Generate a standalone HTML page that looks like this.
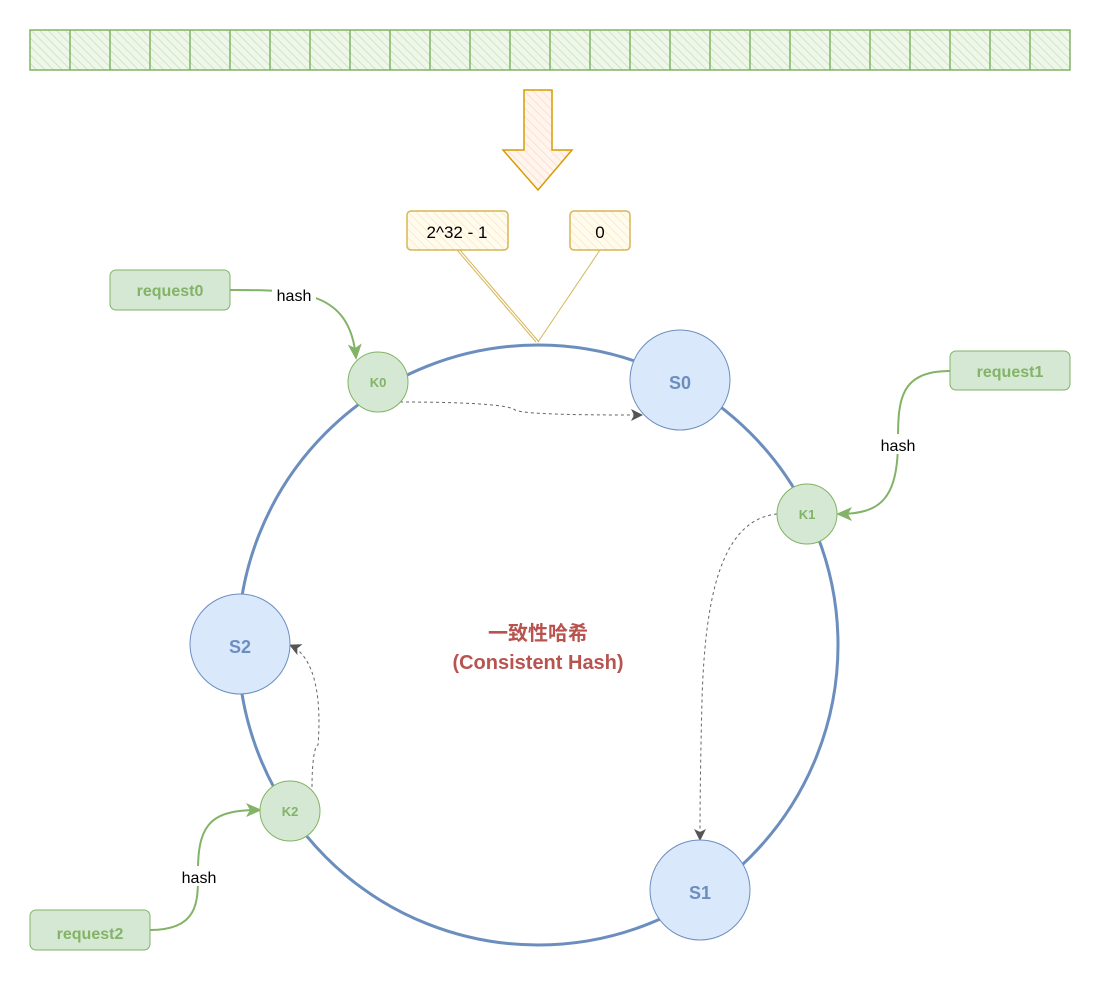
<!DOCTYPE html>
<html><head><meta charset="utf-8"><style>
html,body{margin:0;padding:0;background:#fff;}
svg{display:block;}
.n{font-family:"Comic Sans MS","Liberation Sans",sans-serif;font-weight:bold;}
</style></head><body>
<svg width="1101" height="981" viewBox="0 0 1101 981" xmlns="http://www.w3.org/2000/svg">
<defs>
<pattern id="hg" width="6" height="6" patternUnits="userSpaceOnUse" patternTransform="rotate(-45)">
<rect width="6" height="6" fill="#eef7ea"/><line x1="0" y1="0" x2="0" y2="6" stroke="#cfe6c5" stroke-width="2"/></pattern>
<pattern id="hy" width="6" height="6" patternUnits="userSpaceOnUse" patternTransform="rotate(-45)">
<rect width="6" height="6" fill="#fffbee"/><line x1="0" y1="0" x2="0" y2="6" stroke="#fbecc6" stroke-width="2"/></pattern>
<pattern id="ho" width="6" height="6" patternUnits="userSpaceOnUse" patternTransform="rotate(-45)">
<rect width="6" height="6" fill="#fff5ee"/><line x1="0" y1="0" x2="0" y2="6" stroke="#fde0cc" stroke-width="2"/></pattern>
<marker id="ag" markerWidth="16" markerHeight="16" refX="14" refY="8" orient="auto" markerUnits="userSpaceOnUse"><path d="M0,1 L16,8 L0,15 L4,8 Z" fill="#82b366"/></marker>
<marker id="ad" markerWidth="12" markerHeight="12" refX="11" refY="6" orient="auto" markerUnits="userSpaceOnUse"><path d="M0,0 L12,6 L0,12 L3,6 Z" fill="#555"/></marker>
</defs>

<rect x="30" y="30" width="1040" height="40" fill="url(#hg)" stroke="#82b366" stroke-width="1.5"/>
<g stroke="#82b366" stroke-width="1.5">
<line x1="70" y1="30" x2="70" y2="70"/><line x1="110" y1="30" x2="110" y2="70"/><line x1="150" y1="30" x2="150" y2="70"/><line x1="190" y1="30" x2="190" y2="70"/><line x1="230" y1="30" x2="230" y2="70"/><line x1="270" y1="30" x2="270" y2="70"/><line x1="310" y1="30" x2="310" y2="70"/><line x1="350" y1="30" x2="350" y2="70"/><line x1="390" y1="30" x2="390" y2="70"/><line x1="430" y1="30" x2="430" y2="70"/><line x1="470" y1="30" x2="470" y2="70"/><line x1="510" y1="30" x2="510" y2="70"/><line x1="550" y1="30" x2="550" y2="70"/><line x1="590" y1="30" x2="590" y2="70"/><line x1="630" y1="30" x2="630" y2="70"/><line x1="670" y1="30" x2="670" y2="70"/><line x1="710" y1="30" x2="710" y2="70"/><line x1="750" y1="30" x2="750" y2="70"/><line x1="790" y1="30" x2="790" y2="70"/><line x1="830" y1="30" x2="830" y2="70"/><line x1="870" y1="30" x2="870" y2="70"/><line x1="910" y1="30" x2="910" y2="70"/><line x1="950" y1="30" x2="950" y2="70"/><line x1="990" y1="30" x2="990" y2="70"/><line x1="1030" y1="30" x2="1030" y2="70"/>
</g>

<path d="M524,90 L552,90 L552,150 L572,150 L538,190 L503,150 L524,150 Z" fill="url(#ho)" stroke="#d79b00" stroke-width="1.5"/>

<rect x="407" y="211" width="101" height="39" rx="4" fill="url(#hy)" stroke="#d6b656" stroke-width="1.5"/>
<text x="457" y="238" font-family="Liberation Sans,sans-serif" font-size="17" text-anchor="middle">2^32 - 1</text>
<rect x="570" y="211" width="60" height="39" rx="4" fill="url(#hy)" stroke="#d6b656" stroke-width="1.5"/>
<text x="600" y="238" font-family="Liberation Sans,sans-serif" font-size="17" text-anchor="middle">0</text>
<g stroke="#d6b656" stroke-width="1">
<line x1="457" y1="250" x2="536" y2="342"/><line x1="460" y1="250" x2="539" y2="342"/>
<line x1="600" y1="250" x2="538" y2="342"/>
</g>

<circle cx="538" cy="645" r="300" fill="none" stroke="#6c8ebf" stroke-width="3"/>

<text x="538" y="640" font-family="Liberation Sans,'Noto Sans CJK SC',sans-serif" font-weight="bold" font-size="20" fill="#b85450" text-anchor="middle">一致性哈希</text>
<text x="538" y="669" class="n" font-size="20" fill="#b85450" text-anchor="middle">(Consistent Hash)</text>

<g fill="none" stroke="#666" stroke-width="1" stroke-dasharray="3,3">
<path d="M400,402 C470,402 510,405 515,410 C525,415 600,415 642,415" marker-end="url(#ad)"/>
<path d="M777,514 C720,520 705,600 702,700 C700,780 700,820 700,840" marker-end="url(#ad)"/>
<path d="M312,787 C312,760 315,745 318,745 C320,720 322,660 290,645" marker-end="url(#ad)"/>
</g>

<g fill="none" stroke="#82b366" stroke-width="2">
<path d="M230,290 C300,290 350,290 356,358" marker-end="url(#ag)"/>
<path d="M950,371 C900,371 898,400 898,440 C898,500 880,514 838,514" marker-end="url(#ag)"/>
<path d="M150,930 C200,930 198,900 198,870 C198,820 215,810 260,810" marker-end="url(#ag)"/>
</g>
<rect x="272" y="284" width="44" height="20" fill="#fff"/>
<text x="294" y="301" font-family="'Comic Sans MS',Liberation Sans,sans-serif" font-size="16" text-anchor="middle">hash</text>
<rect x="876" y="434" width="44" height="20" fill="#fff"/>
<text x="898" y="451" font-family="'Comic Sans MS',Liberation Sans,sans-serif" font-size="16" text-anchor="middle">hash</text>
<rect x="177" y="866" width="44" height="20" fill="#fff"/>
<text x="199" y="883" font-family="'Comic Sans MS',Liberation Sans,sans-serif" font-size="16" text-anchor="middle">hash</text>

<rect x="110" y="270" width="120" height="40" rx="6" fill="#d5e8d4" stroke="#82b366"/>
<text x="170" y="296" class="n" font-size="16" fill="#82b366" text-anchor="middle">request0</text>
<rect x="950" y="351" width="120" height="39" rx="6" fill="#d5e8d4" stroke="#82b366"/>
<text x="1010" y="377" class="n" font-size="16" fill="#82b366" text-anchor="middle">request1</text>
<rect x="30" y="910" width="120" height="40" rx="6" fill="#d5e8d4" stroke="#82b366"/>
<text x="90" y="939" class="n" font-size="16" fill="#82b366" text-anchor="middle">request2</text>

<circle cx="680" cy="380" r="50" fill="#dae8fc" stroke="#6c8ebf"/>
<text x="680" y="389" class="n" font-size="18" fill="#6c8ebf" text-anchor="middle">S0</text>
<circle cx="240" cy="644" r="50" fill="#dae8fc" stroke="#6c8ebf"/>
<text x="240" y="653" class="n" font-size="18" fill="#6c8ebf" text-anchor="middle">S2</text>
<circle cx="700" cy="890" r="50" fill="#dae8fc" stroke="#6c8ebf"/>
<text x="700" y="899" class="n" font-size="18" fill="#6c8ebf" text-anchor="middle">S1</text>

<circle cx="378" cy="382" r="30" fill="#d5e8d4" stroke="#82b366"/>
<text x="378" y="387" class="n" font-size="13" fill="#82b366" text-anchor="middle">K0</text>
<circle cx="807" cy="514" r="30" fill="#d5e8d4" stroke="#82b366"/>
<text x="807" y="519" class="n" font-size="13" fill="#82b366" text-anchor="middle">K1</text>
<circle cx="290" cy="811" r="30" fill="#d5e8d4" stroke="#82b366"/>
<text x="290" y="816" class="n" font-size="13" fill="#82b366" text-anchor="middle">K2</text>
</svg>
</body></html>
